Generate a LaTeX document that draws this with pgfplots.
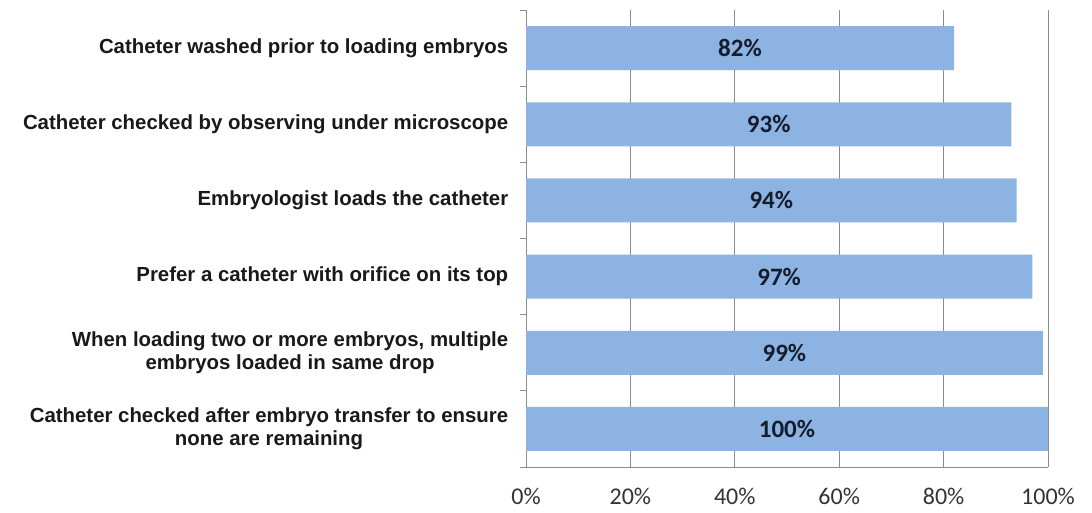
\documentclass[border=0pt]{standalone}
\usepackage{fontspec}
\setmainfont{Carlito}
\newfontfamily\arialfont{Liberation Sans}
\usepackage{pgfplots}
\pgfplotsset{compat=1.18}
\definecolor{barblue}{HTML}{8DB3E2}
\definecolor{gridgray}{HTML}{8C8C8C}
\definecolor{lblcol}{HTML}{141C2E}
\begin{document}
\begin{tikzpicture}
\begin{axis}[
  at={(526bp,46bp)}, anchor=south west,
  width=522bp, height=457bp, scale only axis,
  xmin=0, xmax=100, ymin=-0.5, ymax=5.5,
  y dir=reverse,
  axis lines*=left,
  axis line style={gridgray, line width=0.8pt},
  xtick={0,20,...,100},
  xmajorgrids, grid style={gridgray, line width=0.8pt},
  major x tick style={draw=none},
  /pgf/number format/assume math mode=true,
  xticklabel={\pgfmathprintnumber{\tick}\%},
  xticklabel style={font=\fontsize{24bp}{27bp}\selectfont, color=black!80, yshift=-13bp},
  ytick={0,...,5},
  major y tick style={draw=none},
  minor ytick={-0.5,0.5,...,5.5},
  minor tick length=6bp,
  minor y tick style={gridgray, line width=0.8pt},
  tick align=outside,
  yticklabels={
    Catheter washed prior to loading embryos,
    Catheter checked by observing under microscope,
    Embryologist loads the catheter,
    Prefer a catheter with orifice on its top,
    {When loading two or more embryos, multiple\\embryos loaded in same drop},
    {Catheter checked after embryo transfer to ensure\\none are remaining}},
  yticklabel style={font=\arialfont\bfseries\fontsize{20.4bp}{23bp}\selectfont, align=center, xshift=-10bp, color=black!90},
  xbar, bar width=44bp,
  nodes near coords={\pgfmathprintnumber{\pgfplotspointmeta}\%},
  visualization depends on={x \as \myx},
  every node near coord/.append style={anchor=center, xshift=-\myx*2.61bp, font=\bfseries\fontsize{25bp}{28bp}\selectfont, color=lblcol},
  clip=false,
]
\addplot[fill=barblue, draw=none] coordinates {
  (82,0) (93,1) (94,2) (97,3) (99,4) (100,5)
};
\end{axis}
\pgfresetboundingbox
\path (0,0) rectangle (1092bp,513bp);
\end{tikzpicture}
\end{document}
